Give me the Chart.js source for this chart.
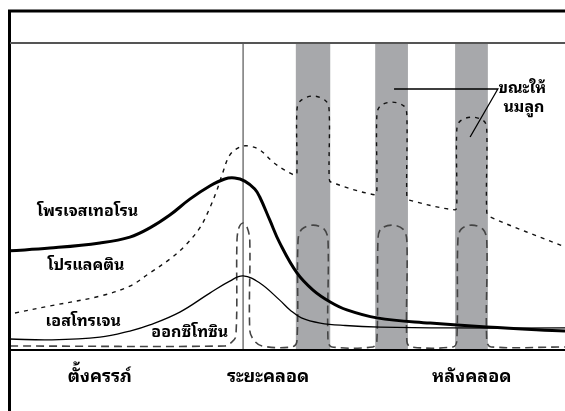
<!DOCTYPE html>
<html><head><meta charset="utf-8">
<script src="https://cdn.jsdelivr.net/npm/chart.js@4/dist/chart.umd.min.js"></script>
<style>html,body{margin:0;padding:0;background:#fff;}#wrap{position:relative;width:565px;height:411px;}</style>
</head><body><div id="wrap"><canvas id="c" width="565" height="411"></canvas></div>
<script>
// ---- data (x: time units 0-100, y: relative level 0-100) ----
const progesterone = [[0,32.4],[7.2,33.3],[16.2,35.0],[21.6,36.9],[25.2,39.9],[28.8,44.1],[32.4,49.3],[36.0,53.6],[38.7,55.9],[40.5,56.2],[42.3,55.2],[44.1,52.6],[45.0,50.0],[46.8,42.5],[48.6,35.0],[51.7,25.2],[54.6,19.6],[57.7,15.7],[60.7,13.1],[66.1,10.5],[75.7,8.8],[85.9,7.5],[100,6.2]];
const estrogen = [[0,3.6],[7.2,3.3],[16.2,4.2],[21.6,6.2],[25.2,8.2],[30.6,12.4],[36.0,18.6],[39.6,22.5],[42.0,24.2],[45.0,21.9],[48.6,16.3],[50.5,13.0],[52.5,10.5],[55.9,8.8],[60.4,8.0],[66.7,7.5],[79.3,7.2],[100,7.2]];
const prolactin = [[0.9,12.1],[7.2,14.4],[16.2,17.6],[21.6,20.9],[25.2,25.2],[28.8,29.7],[31.5,34.0],[34.2,39.9],[36.0,46.4],[37.3,52.3],[38.2,57.2],[39.6,63.7],[41.4,66.3],[42.9,66.7],[45.0,65.4],[47.4,61.4],[49.5,58.8],[51.5,57.2],
  [51.7,59.5],[51.7,78.4],[52.3,81.4],[54.6,83.0],[56.9,81.4],[57.5,78.4],[57.5,56.2],[57.8,54.9],
  [65.8,50.7],[66.1,52.3],[66.1,76.8],[66.7,79.7],[68.8,81.0],[71.0,79.7],[71.5,76.8],[71.5,50.0],[71.9,49.0],
  [80.2,45.8],[80.5,47.4],[80.5,71.9],[81.1,74.8],[83.2,76.1],[85.4,74.8],[85.9,71.9],[85.9,45.1],[86.5,43.5],
  [100,33.7]];
const oxytocin = [[0,1.3],[38.7,1.3],[39.8,2.3],[40.7,4.6],[40.9,35.9],[41.3,40.2],[42.0,41.5],[42.7,40.2],[43.2,35.9],[43.2,6.5],[43.9,3.3],[45.4,1.3],
  [50.8,1.0],[51.7,2.9],[51.9,35.9],[52.6,39.5],[54.6,40.8],[56.6,39.5],[57.3,35.9],[57.3,2.9],[58.0,1.0],
  [65.4,1.0],[66.1,2.9],[66.3,35.9],[66.8,39.5],[68.8,40.8],[70.8,39.5],[71.5,35.9],[71.5,2.9],[72.2,1.0],
  [79.8,1.0],[80.5,2.9],[80.7,35.9],[81.3,39.5],[83.2,40.8],[85.2,39.5],[85.9,35.9],[85.9,2.9],[86.7,1.0],
  [100,1.0]];
const nursingPeriods = [[51.5,57.7],[65.8,71.7],[80.2,86.1]];
const laborTime = 42.0;
const phaseLabels = ['ตั้งครรภ์','ระยะคลอด','หลังคลอด'];
const phaseCenters = [16.2,46.5,83.2];
const seriesNames = ['โพรเจสเทอโรน','โปรแลคติน','เอสโทรเจน','ออกซิโทซิน'];
const nursingLabel = ['ขณะให้','นมลูก'];

// ---- label anchors (data units) ----
const seriesLabelAt = [[14.0,45.4],[13.7,27.5],[13.2,9.2],[32.4,5.6]];
const nursingLabelAt = [[92.3,85.6],[92.6,79.4]];
const nursingPointer = [[69.2,85.3],[87.9,85.3],[82.9,69.6]];

const FAMILY = '"Noto Sans Thai Looped", Tahoma, Loma, Garuda, "Noto Sans Thai", "DejaVu Sans", sans-serif';
const FONT = 'bold 16px ' + FAMILY;
const PHASE_FONT = 'bold 18px ' + FAMILY;
const toXY = a => a.map(p => ({x:p[0], y:p[1]}));

const framePlugin = {
  id:'frame',
  beforeDatasetsDraw(chart){
    const {ctx, chartArea:a, scales:{x,y}} = chart;
    ctx.save();
    ctx.fillStyle = '#a7a8ab';
    nursingPeriods.forEach(([s,e])=>{
      const x0 = x.getPixelForValue(s), x1 = x.getPixelForValue(e);
      ctx.fillRect(x0, a.top, x1-x0, a.bottom-a.top);
    });
    ctx.strokeStyle = '#777'; ctx.lineWidth = 1.5;
    const lx = x.getPixelForValue(laborTime);
    ctx.beginPath(); ctx.moveTo(lx, a.top); ctx.lineTo(lx, a.bottom); ctx.stroke();
    ctx.restore();
  },
  afterDraw(chart){
    const {ctx, chartArea:a, scales:{x,y}} = chart;
    ctx.save();
    ctx.strokeStyle = '#000'; ctx.lineWidth = 3;
    ctx.beginPath(); ctx.moveTo(9.5, 411); ctx.lineTo(9.5, 11); ctx.lineTo(565, 11); ctx.stroke();
    ctx.strokeStyle = '#555'; ctx.lineWidth = 2;
    ctx.beginPath(); ctx.moveTo(10, a.top-1); ctx.lineTo(565, a.top-1); ctx.stroke();
    ctx.strokeStyle = '#000'; ctx.lineWidth = 2;
    ctx.beginPath(); ctx.moveTo(10, a.bottom); ctx.lineTo(565, a.bottom); ctx.stroke();
    ctx.lineWidth = 1.3;
    ctx.beginPath();
    nursingPointer.forEach((p,i)=>{const px=x.getPixelForValue(p[0]), py=y.getPixelForValue(p[1]); i?ctx.lineTo(px,py):ctx.moveTo(px,py);});
    ctx.stroke();
    ctx.fillStyle = '#000'; ctx.font = FONT; ctx.textAlign = 'center'; ctx.textBaseline = 'middle';
    seriesNames.forEach((t,i)=>ctx.fillText(t, x.getPixelForValue(seriesLabelAt[i][0]), y.getPixelForValue(seriesLabelAt[i][1])));
    nursingLabel.forEach((t,i)=>ctx.fillText(t, x.getPixelForValue(nursingLabelAt[i][0]), y.getPixelForValue(nursingLabelAt[i][1])));
    ctx.font = PHASE_FONT;
    phaseLabels.forEach((t,i)=>ctx.fillText(t, x.getPixelForValue(phaseCenters[i]), a.bottom+27));
    ctx.restore();
  }
};

new Chart(document.getElementById('c'), {
  type:'line',
  data:{datasets:[
    {label:seriesNames[0], data:toXY(progesterone), borderColor:'#000', borderWidth:3, tension:0.4},
    {label:seriesNames[1], data:toXY(prolactin), borderColor:'#111', borderWidth:1.4, borderDash:[4,5], tension:0.35},
    {label:seriesNames[2], data:toXY(estrogen), borderColor:'#000', borderWidth:1.3, tension:0.4},
    {label:seriesNames[3], data:toXY(oxytocin), borderColor:'#444', borderWidth:1.6, borderDash:[8,5], tension:0.35}
  ]},
  options:{
    responsive:false, animation:false, devicePixelRatio:1, events:[],
    layout:{padding:{left:10, top:44, right:0, bottom:61}},
    elements:{point:{radius:0}},
    scales:{
      x:{type:'linear', min:0, max:100, display:false},
      y:{type:'linear', min:0, max:100, display:false}
    },
    plugins:{legend:{display:false}, tooltip:{enabled:false}}
  },
  plugins:[framePlugin]
});
</script></body></html>
